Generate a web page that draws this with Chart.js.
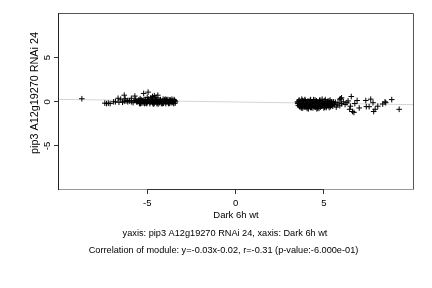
<!DOCTYPE html>
<html>
<head>
<meta charset="utf-8">
<script src="https://cdn.jsdelivr.net/npm/chart.js@4/dist/chart.umd.min.js"></script>
<style>
html,body{margin:0;padding:0;background:#fff;}
canvas{display:block;}
</style>
</head>
<body>
<canvas id="c" width="432" height="288"></canvas>
<script>
// ---- data ----
const xTicks = [-5, 0, 5];
const yTicks = [-5, 0, 5];
const xTitle = "Dark 6h wt";
const yTitle = "pip3 A12g19270 RNAi 24";
const caption1 = "yaxis: pip3 A12g19270 RNAi 24, xaxis: Dark 6h wt";
const caption2 = "Correlation of module: y=-0.03x-0.02, r=-0.31 (p-value:-6.000e-01)";
const fitSlope = -0.03;
const fitIntercept = -0.02;

const leftX = [-8.7,-7.4,-7.3,-7.2,-7.1,-6.9,-6.8,-6.65,-6.5,-6.3,-6.25,-6.4,-6.1,-5.9,-5.7,-5.6,-5.2,-4.95,-4.8,-4.6,-4.4,-4.5,-4.7,-5.0,-5.4,-6.0,-5.8,
 -5.5,-5.45,-5.4,-5.35,-5.3,-5.25,-5.2,-5.15,-5.1,-5.05,-5.0,-4.95,-4.9,-4.85,-4.8,-4.75,-4.7,-4.65,-4.6,-4.55,-4.5,-4.45,-4.4,-4.35,-4.3,-4.25,-4.2,-4.15,-4.1,-4.05,-4.0,-3.95,-3.9,-3.85,-3.8,-3.75,-3.7,-3.65,-3.6,-3.55,-3.5,-3.45,-3.4,
 -3.42,-3.48,-3.58,-3.68,-3.78,-3.88,-3.98,-4.08,-4.18,-4.28,-4.38,-4.48,-4.58,-4.68,-4.78,-4.88,-4.98,-5.08,-5.18,-5.28,-5.38,-5.48,-5.58,-5.7,-5.9,-6.1,-6.3,
 -3.44,-3.53,-3.63,-3.73,-3.83,-3.93,-4.03,-4.13,-4.23,-4.33,-4.43,-4.53,-4.63,-4.73,-4.83,-4.93,-5.03,-5.13,-5.23,-5.33,-5.43,-6.6,-6.2,-5.65];
const leftY = [0.35,-0.15,-0.2,-0.15,-0.2,0.0,0.0,0.4,0.3,0.75,0.35,-0.05,0.0,0.4,0.65,0.05,0.95,1.1,0.45,0.7,0.75,0.5,0.6,0.5,0.35,0.1,-0.1,
 0.1,-0.1,0.2,0.0,-0.15,0.15,0.05,-0.2,0.25,0.0,-0.1,0.2,0.1,-0.2,0.05,0.25,-0.05,0.15,-0.15,0.3,0.0,-0.2,0.2,0.05,-0.1,0.25,-0.2,0.1,0.3,-0.05,0.15,-0.2,0.25,0.0,-0.15,0.2,0.05,-0.1,0.3,0.1,-0.2,0.15,0.0,
 -0.15,0.25,-0.05,0.2,-0.2,0.1,0.3,-0.15,0.0,0.2,-0.25,0.15,0.05,-0.2,0.3,0.0,0.15,-0.15,0.25,0.1,-0.2,0.2,-0.05,0.15,0.0,0.15,0.05,
 0.1,-0.1,0.05,-0.15,0.25,-0.05,0.2,-0.2,0.05,0.15,-0.1,0.25,-0.25,0.1,-0.05,0.3,-0.2,0.05,-0.1,0.2,-0.2,-0.05,0.1,0.3];

const rightX = [3.5,3.55,3.6,3.65,3.7,3.75,3.8,3.85,3.9,3.95,4.0,4.05,4.1,4.15,4.2,4.25,4.3,4.35,4.4,4.45,4.5,4.55,4.6,4.65,4.7,4.75,4.8,4.85,4.9,4.95,5.0,5.05,5.1,5.15,5.2,5.25,5.3,5.35,5.4,5.45,5.5,5.55,5.6,5.7,5.8,5.9,
 3.52,3.58,3.62,3.68,3.72,3.78,3.82,3.88,3.92,3.98,4.02,4.08,4.12,4.18,4.22,4.28,4.32,4.38,4.42,4.48,4.52,4.58,4.62,4.68,4.72,4.78,4.82,4.88,4.92,4.98,5.02,5.08,5.12,5.18,5.22,5.28,5.32,5.38,5.42,5.48,
 3.54,3.64,3.74,3.84,3.94,4.04,4.14,4.24,4.34,4.44,4.54,4.64,4.74,4.84,4.94,5.04,5.14,5.24,5.34,5.44,5.65,5.75,
 5.9,6.0,6.1,6.37,6.46,6.55,6.62,6.7,6.75,6.88,7.0,7.37,7.4,7.56,7.65,7.78,7.82,7.9,8.05,8.33,8.46,8.5,8.84,9.26,6.2,6.5,6.0,6.3,5.95];
const rightY = [0.0,-0.4,0.2,-0.6,-0.2,0.3,-0.7,0.05,-0.45,0.15,-0.3,-0.75,0.1,-0.5,-0.1,0.25,-0.65,-0.25,0.05,-0.55,0.2,-0.35,-0.8,0.0,-0.45,0.15,-0.6,-0.15,0.3,-0.4,-0.7,0.1,-0.3,-0.55,0.05,-0.2,-0.65,0.2,-0.35,-0.1,-0.5,0.0,-0.25,-0.6,-0.1,-0.45,
 -0.2,0.1,-0.5,-0.05,-0.7,0.15,-0.35,-0.6,0.25,-0.15,-0.55,0.0,-0.8,-0.3,0.15,-0.45,-0.1,-0.7,0.25,-0.2,-0.6,0.1,-0.35,-0.05,-0.75,0.2,-0.3,-0.5,0.0,-0.2,-0.45,0.25,-0.65,-0.15,-0.4,0.1,-0.3,-0.55,0.0,-0.3,
 -0.1,-0.35,-0.55,-0.25,-0.6,-0.1,-0.4,-0.65,-0.2,-0.5,-0.05,-0.7,-0.25,-0.45,-0.1,-0.6,-0.3,-0.5,-0.15,-0.4,-0.05,-0.35,
 0.3,0.45,0.0,0.1,-0.85,0.6,-1.1,-1.2,-0.2,0.15,-0.7,0.15,-0.55,-0.55,0.3,-0.1,-1.1,-0.85,-0.5,-0.25,0.0,-0.1,0.25,-0.85,-0.3,-0.5,-0.2,-0.1,0.35];

const xMin = -10.05, xMax = 10.1, yMin = -10.0, yMax = 10.07;

// ---- build ----
const pts = [];
leftX.forEach((x,i)=>pts.push({x:x,y:leftY[i]}));
rightX.forEach((x,i)=>pts.push({x:x,y:rightY[i]}));
const fitPts = [xMin, xMax].map(x=>({x:x, y:fitSlope*x+fitIntercept}));

const FONT = "'Liberation Sans', Arial, Helvetica, sans-serif";

const framePlugin = {
  id:'frame',
  afterDraw(chart){
    const {ctx, chartArea:a, scales} = chart;
    ctx.save();
    ctx.lineWidth = 1;
    ctx.strokeStyle = '#555';
    ctx.beginPath();
    ctx.moveTo(a.left+0.5, a.top+0.5); ctx.lineTo(a.right-0.5, a.top+0.5); ctx.lineTo(a.right-0.5, a.bottom-0.5);
    ctx.stroke();
    ctx.strokeStyle = '#999';
    ctx.beginPath();
    ctx.moveTo(a.left, a.bottom-0.5); ctx.lineTo(a.right, a.bottom-0.5); ctx.stroke();
    ctx.strokeStyle = '#222';
    ctx.beginPath();
    ctx.moveTo(a.left+0.5, a.top); ctx.lineTo(a.left+0.5, a.bottom); ctx.stroke();
    const xs = scales.x;
    ctx.strokeStyle = '#333';
    ctx.beginPath();
    ctx.moveTo(xs.getPixelForValue(xTicks[0]), a.bottom-0.5);
    ctx.lineTo(xs.getPixelForValue(xTicks[xTicks.length-1]), a.bottom-0.5);
    ctx.stroke();
    ctx.fillStyle = '#000';
    // y axis title
    ctx.save();
    ctx.font = "10.8px " + FONT;
    ctx.textAlign = 'center';
    ctx.textBaseline = 'middle';
    ctx.translate(35, 93);
    ctx.rotate(-Math.PI/2);
    ctx.fillText(yTitle, 0, 0);
    ctx.restore();
    // captions
    ctx.font = "9.2px " + FONT;
    ctx.textAlign = 'center';
    ctx.textBaseline = 'middle';
    ctx.fillText(caption1, 225, 233);
    ctx.fillText(caption2, 223.5, 250);
    ctx.restore();
  }
};

new Chart(document.getElementById('c'), {
  type:'scatter',
  data:{
    datasets:[
      {type:'scatter', data:pts, pointStyle:'cross', pointRadius:2.8, pointBorderWidth:1,
       borderColor:'#000', backgroundColor:'#000', order:1},
      {type:'line', data:fitPts, borderColor:'#d4d4d4', borderWidth:1, pointRadius:0, order:2}
    ]
  },
  options:{
    responsive:false,
    devicePixelRatio:1,
    animation:false,
    events:[],
    layout:{padding:{left:0, right:18, top:13, bottom:0}},
    plugins:{legend:{display:false}, tooltip:{enabled:false}},
    scales:{
      x:{
        type:'linear', min:xMin, max:xMax,
        afterBuildTicks:s=>{ s.ticks = xTicks.map(v=>({value:v})); },
        afterFit:s=>{ s.height = 98; },
        grid:{drawOnChartArea:false, drawTicks:true, tickLength:4, color:'#333'},
        border:{display:false},
        ticks:{color:'#000', font:{family:FONT, size:9.5}, padding:4, maxRotation:0, autoSkip:false},
        title:{display:true, text:xTitle, color:'#000', font:{family:FONT, size:9.5}, padding:{top:0,bottom:67}}
      },
      y:{
        type:'linear', min:yMin, max:yMax,
        afterBuildTicks:s=>{ s.ticks = yTicks.map(v=>({value:v})); },
        afterFit:s=>{ s.width = 58; },
        grid:{drawOnChartArea:false, drawTicks:true, tickLength:4, color:'#333'},
        border:{display:false},
        ticks:{color:'#000', font:{family:FONT, size:9.5}, padding:2, minRotation:90, maxRotation:90, crossAlign:'center', autoSkip:false},
        title:{display:false}
      }
    }
  },
  plugins:[framePlugin]
});
</script>
</body>
</html>
